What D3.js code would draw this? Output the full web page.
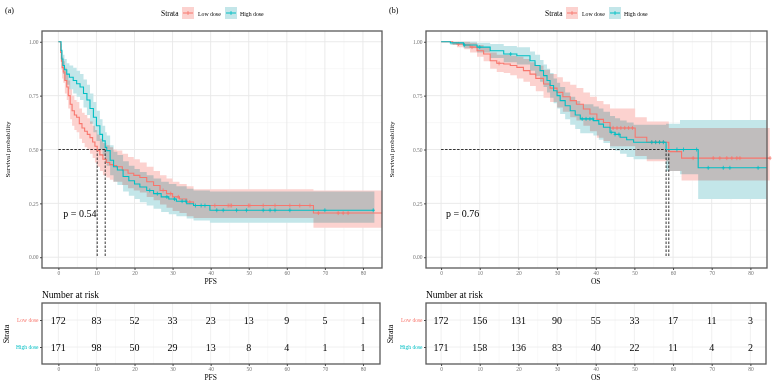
<!DOCTYPE html>
<html>
<head lang="en">
    <meta charset="UTF-8">
    <title></title>
    <script src="https://cdn.jsdelivr.net/npm/d3@7"></script>
    <style>
        body{margin:0;background:#fff;}
        svg text{font-family:"Liberation Serif","DejaVu Serif",serif;}
        .band{mix-blend-mode:multiply;}
    </style>
</head>
<body>
<script>
    // ---- data ----
    var strata=["Low dose","High dose"];
    var xTicks=[0,10,20,30,40,50,60,70,80];
    var yTicks=[0,0.25,0.5,0.75,1];

    // PFS, low dose
    var pfsLowT=[0,0.6,0.8,1.0,1.3,1.7,2.2,2.6,3.1,3.6,4.2,4.8,5.5,6.2,6.9,7.6,8.3,9.0,9.6,10.2,10.9,11.7,12.6,13.5,14.4,15.3,16.8,18.3,19.8,21.4,23.2,25.0,26.7,28.4,30.0,31.8,33.7,35.5,67.0,85];
    var pfsLowS=[1,0.95,0.91,0.88,0.86,0.82,0.79,0.75,0.71,0.68,0.66,0.65,0.62,0.60,0.585,0.57,0.555,0.535,0.515,0.495,0.475,0.455,0.44,0.43,0.425,0.42,0.405,0.39,0.38,0.37,0.35,0.333,0.31,0.295,0.28,0.27,0.256,0.24,0.205,0.205];
    var pfsLowLo=[1,0.92,0.87,0.83,0.81,0.76,0.73,0.69,0.64,0.61,0.59,0.58,0.55,0.53,0.51,0.50,0.48,0.46,0.44,0.42,0.40,0.38,0.37,0.36,0.35,0.35,0.335,0.32,0.31,0.30,0.28,0.265,0.245,0.23,0.215,0.205,0.19,0.182,0.137,0.137];
    var pfsLowHi=[1,0.98,0.95,0.93,0.91,0.88,0.85,0.82,0.78,0.75,0.73,0.72,0.69,0.67,0.66,0.645,0.63,0.61,0.59,0.57,0.55,0.53,0.52,0.51,0.50,0.495,0.48,0.465,0.455,0.44,0.42,0.40,0.38,0.365,0.35,0.34,0.33,0.315,0.31,0.31];
    var pfsLowCens=[27.5,29.5,31.5,34.5,41.1,44.6,45.1,45.5,49.9,50.3,53.8,56.9,60.8,63.4,66.1,68.3,73.5,74.8,76.1];

    // PFS, high dose
    var pfsHighT=[0,0.7,0.9,1.2,1.6,2.2,2.9,3.9,4.8,5.7,6.6,7.5,8.3,9.2,10.0,10.9,11.6,12.3,12.7,13.6,14.5,15.5,17.0,18.5,20.0,21.4,23.2,25.0,27.0,29.0,31.0,33.7,35.5,39.8,83];
    var pfsHighS=[1,0.96,0.92,0.89,0.87,0.85,0.835,0.82,0.805,0.79,0.76,0.73,0.69,0.65,0.61,0.57,0.54,0.51,0.495,0.45,0.42,0.405,0.375,0.355,0.34,0.326,0.31,0.295,0.28,0.27,0.26,0.248,0.24,0.218,0.218];
    var pfsHighLo=[1,0.93,0.88,0.85,0.82,0.80,0.78,0.76,0.745,0.73,0.695,0.66,0.62,0.58,0.54,0.50,0.47,0.44,0.425,0.38,0.35,0.335,0.305,0.285,0.27,0.255,0.24,0.225,0.21,0.20,0.19,0.18,0.17,0.16,0.16];
    var pfsHighHi=[1,0.99,0.96,0.94,0.92,0.90,0.89,0.88,0.865,0.85,0.825,0.80,0.76,0.72,0.68,0.64,0.61,0.58,0.565,0.52,0.49,0.475,0.445,0.425,0.41,0.395,0.38,0.365,0.35,0.34,0.33,0.318,0.31,0.305,0.305];
    var pfsHighCens=[24,26,28.5,30.5,32.5,33.5,36,37.5,38.5,41.6,43.3,46.8,49.4,53.8,55.6,56.9,60.8,70,82.7];

    // OS, low dose
    var osLowT=[0,3,4.1,6,7.5,9.3,11,12.7,14.4,16.2,17.9,19.6,21.3,23,24.5,26.5,28.2,30,31.5,33.4,35,36.8,38.5,40.3,42,43.7,50.2,53.2,58.9,62.2,85];
    var osLowS=[1,0.995,0.99,0.985,0.975,0.958,0.943,0.912,0.90,0.897,0.89,0.881,0.866,0.85,0.83,0.804,0.785,0.765,0.745,0.727,0.71,0.688,0.665,0.64,0.625,0.60,0.557,0.534,0.49,0.46,0.46];
    var osLowLo=[1,0.985,0.975,0.965,0.95,0.93,0.91,0.875,0.86,0.855,0.845,0.83,0.815,0.795,0.77,0.74,0.72,0.695,0.675,0.65,0.635,0.61,0.585,0.555,0.54,0.515,0.47,0.445,0.40,0.356,0.356];
    var osLowHi=[1,1,1,1,0.995,0.985,0.975,0.95,0.94,0.94,0.935,0.93,0.92,0.905,0.89,0.87,0.85,0.835,0.815,0.80,0.785,0.765,0.745,0.725,0.71,0.69,0.65,0.63,0.60,0.60,0.60];
    var osLowCens=[4.5,8,15,44.5,45.5,46.5,47.5,48.5,49.5,54.5,55.5,56.5,57.5,65.2,70.4,72.1,73.9,75.2,76.5,77.3,85.1];

    // OS, high dose
    var osHighT=[0,2.4,5.8,9.3,12.7,16.2,19.6,23,24.3,25.6,26.5,27.4,28.2,29.1,30,30.8,32.1,33.4,34.7,36,39.4,40.8,42,43.7,45,46.3,48,49.8,58.2,61.8,66.5,84.2];
    var osHighS=[1,0.995,0.985,0.975,0.958,0.943,0.935,0.912,0.89,0.866,0.843,0.82,0.797,0.773,0.75,0.727,0.703,0.68,0.66,0.642,0.634,0.618,0.603,0.58,0.57,0.557,0.545,0.534,0.50,0.50,0.415,0.415];
    var osHighLo=[1,0.985,0.97,0.95,0.925,0.905,0.895,0.865,0.84,0.815,0.79,0.765,0.74,0.715,0.69,0.665,0.64,0.615,0.595,0.575,0.565,0.545,0.53,0.505,0.495,0.48,0.465,0.455,0.40,0.385,0.27,0.27];
    var osHighHi=[1,1,1,0.995,0.99,0.98,0.975,0.955,0.94,0.915,0.895,0.875,0.855,0.83,0.81,0.79,0.765,0.745,0.725,0.71,0.70,0.69,0.675,0.655,0.645,0.635,0.625,0.615,0.62,0.637,0.637,0.637];
    var osHighCens=[6,10,18,36.5,37.5,38.5,39.3,44,45,46,54.5,55.5,56.5,57.5,61,62.7,66.1,69.1,73,74.7,82];

    // number at risk
    var riskTimes=[0,10,20,30,40,50,60,70,80];
    var pfsRiskLow=[172,83,52,33,23,13,9,5,1];
    var pfsRiskHigh=[171,98,50,29,13,8,4,1,1];
    var osRiskLow=[172,156,131,90,55,33,17,11,3];
    var osRiskHigh=[171,158,136,83,40,22,11,4,2];

    var pValues=["p = 0.54","p = 0.76"];
    var medians=[[10.2,12.3],[58.2,58.9]];

    // ---- drawing ----
    var lineColor=["#F8766D","#00BFC4"];
    var bandColor=["#fcd2cf","#c3e6e9"];

    function toPoints(T,S,Lo,Hi){
        return T.map(function(t,i){return {t:t,s:S[i],lo:Lo[i],hi:Hi[i]};});
    }

    var panels=[
        {tag:"(a)",xlab:"PFS",ox:0,px0:42,px1:382,dom:[-4.3,85],p:pValues[0],med:medians[0],
         curves:[toPoints(pfsLowT,pfsLowS,pfsLowLo,pfsLowHi),toPoints(pfsHighT,pfsHighS,pfsHighLo,pfsHighHi)],
         cens:[pfsLowCens,pfsHighCens],risk:[pfsRiskLow,pfsRiskHigh],tx1:380},
        {tag:"(b)",xlab:"OS",ox:384,px0:426,px1:767,dom:[-3.9,84.3],p:pValues[1],med:medians[1],
         curves:[toPoints(osLowT,osLowS,osLowLo,osLowHi),toPoints(osHighT,osHighS,osHighLo,osHighHi)],
         cens:[osLowCens,osHighCens],risk:[osRiskLow,osRiskHigh],tx1:766}
    ];

    var svg=d3.select("body").append("svg").attr("width",778).attr("height",385);
    var py0=31,py1=268;
    var y=d3.scaleLinear().domain([-0.05,1.05]).range([py1,py0]);

    panels.forEach(function(P){
        var g=svg.append("g");
        var x=d3.scaleLinear().domain(P.dom).range([P.px0,P.px1]);

        g.append("text").attr("x",P.ox+5).attr("y",13).style("font-size","8px").text(P.tag);

        // legend
        var lg=g.append("g").attr("transform","translate("+P.ox+",0)");
        lg.append("text").attr("x",161).attr("y",16).style("font-size","7.5px").text("Strata");
        var keyX=[182,225],labX=[198,240];
        strata.forEach(function(s,i){
            lg.append("rect").attr("x",keyX[i]).attr("y",7).attr("width",12).attr("height",12).attr("fill",bandColor[i]);
            lg.append("line").attr("x1",keyX[i]+1).attr("x2",keyX[i]+11).attr("y1",13).attr("y2",13)
                .attr("stroke",lineColor[i]).attr("stroke-width",1);
            lg.append("line").attr("x1",keyX[i]+6).attr("x2",keyX[i]+6).attr("y1",11).attr("y2",15)
                .attr("stroke",lineColor[i]).attr("stroke-width",0.8);
            lg.append("text").attr("x",labX[i]).attr("y",15.5).style("font-size","5.8px").text(s);
        });

        // grid
        var minorX=d3.range(5,85,10), minorY=[0.125,0.375,0.625,0.875];
        g.selectAll(".gmx").data(minorX).enter().append("line")
            .attr("x1",function(d){return x(d);}).attr("x2",function(d){return x(d);})
            .attr("y1",py0).attr("y2",py1).attr("stroke","#f3f3f3").attr("stroke-width",0.6);
        g.selectAll(".gmy").data(minorY).enter().append("line")
            .attr("x1",P.px0).attr("x2",P.px1).attr("y1",function(d){return y(d);}).attr("y2",function(d){return y(d);})
            .attr("stroke","#f3f3f3").attr("stroke-width",0.6);
        g.selectAll(".gx").data(xTicks).enter().append("line")
            .attr("x1",function(d){return x(d);}).attr("x2",function(d){return x(d);})
            .attr("y1",py0).attr("y2",py1).attr("stroke","#e8e8e8").attr("stroke-width",0.9);
        g.selectAll(".gy").data(yTicks).enter().append("line")
            .attr("x1",P.px0).attr("x2",P.px1).attr("y1",function(d){return y(d);}).attr("y2",function(d){return y(d);})
            .attr("stroke","#e8e8e8").attr("stroke-width",0.9);

        // confidence bands
        var area=d3.area().curve(d3.curveStepAfter)
            .x(function(d){return x(d.t);}).y0(function(d){return y(d.lo);}).y1(function(d){return y(d.hi);});
        var bands=g.append("g").style("isolation","isolate");
        P.curves.forEach(function(c,i){
            bands.append("path").attr("class","band").attr("d",area(c)).attr("fill",bandColor[i]);
        });

        // median lines
        var dash=g.append("g").attr("stroke","#000").attr("stroke-width",0.8).attr("stroke-dasharray","2.5,1.5").attr("fill","none");
        dash.append("line").attr("x1",x(0)).attr("x2",x(d3.max(P.med))).attr("y1",y(0.5)).attr("y2",y(0.5));
        P.med.forEach(function(m){
            dash.append("line").attr("x1",x(m)).attr("x2",x(m)).attr("y1",y(0.5)).attr("y2",y(0));
        });

        // survival curves
        var line=d3.line().curve(d3.curveStepAfter).x(function(d){return x(d.t);}).y(function(d){return y(d.s);});
        P.curves.forEach(function(c,i){
            g.append("path").attr("d",line(c)).attr("fill","none").attr("stroke",lineColor[i]).attr("stroke-width",1.1);
            var bis=d3.bisector(function(d){return d.t;}).right;
            P.cens[i].forEach(function(t){
                var s=c[Math.max(0,bis(c,t)-1)].s;
                g.append("line").attr("x1",x(t)).attr("x2",x(t)).attr("y1",y(s)-2).attr("y2",y(s)+2)
                    .attr("stroke",lineColor[i]).attr("stroke-width",0.8);
                g.append("line").attr("x1",x(t)-1.5).attr("x2",x(t)+1.5).attr("y1",y(s)).attr("y2",y(s))
                    .attr("stroke",lineColor[i]).attr("stroke-width",0.8);
            });
        });

        // border
        g.append("rect").attr("x",P.px0).attr("y",py0).attr("width",P.px1-P.px0).attr("height",py1-py0)
            .attr("fill","none").attr("stroke","#5a5a5a").attr("stroke-width",1.3);

        // axes
        var ax=g.append("g").attr("transform","translate(0,"+py1+")")
            .call(d3.axisBottom(x).tickValues(xTicks).tickSize(2).tickPadding(1.5));
        var ay=g.append("g").attr("transform","translate("+P.px0+",0)")
            .call(d3.axisLeft(y).tickValues(yTicks).tickFormat(d3.format(".2f")).tickSize(2).tickPadding(1.5));
        [ax,ay].forEach(function(a){
            a.select(".domain").remove();
            a.selectAll("line").attr("stroke","#444");
            a.selectAll("text").style("font-size","5.5px").attr("fill","#777").style("font-family","Liberation Serif");
        });
        g.append("text").attr("x",x(40)).attr("y",284).attr("text-anchor","middle").style("font-size","7.5px").text(P.xlab);
        g.append("text").attr("transform","translate("+(P.ox+10)+","+((py0+py1)/2)+") rotate(-90)")
            .attr("text-anchor","middle").style("font-size","7px").text("Survival probability");

        g.append("text").attr("x",x(0)+5).attr("y",217).style("font-size","10px").text(P.p);

        // risk table
        var ty0=303,ty1=364;
        var ry=d3.scalePoint().domain(strata).range([320,347]);
        g.append("text").attr("x",P.px0).attr("y",298).style("font-size","9.5px").text("Number at risk");
        g.selectAll(".rmx").data(minorX).enter().append("line")
            .attr("x1",function(d){return x(d);}).attr("x2",function(d){return x(d);})
            .attr("y1",ty0).attr("y2",ty1).attr("stroke","#f3f3f3").attr("stroke-width",0.6);
        g.selectAll(".rgx").data(xTicks).enter().append("line")
            .attr("x1",function(d){return x(d);}).attr("x2",function(d){return x(d);})
            .attr("y1",ty0).attr("y2",ty1).attr("stroke","#ececec").attr("stroke-width",0.8);
        g.selectAll(".rgy").data(strata).enter().append("line")
            .attr("x1",P.px0).attr("x2",P.tx1).attr("y1",function(d){return ry(d);}).attr("y2",function(d){return ry(d);})
            .attr("stroke","#ececec").attr("stroke-width",0.8);
        strata.forEach(function(s,i){
            g.selectAll(".rn"+i).data(P.risk[i]).enter().append("text")
                .attr("x",function(d,j){return x(riskTimes[j]);})
                .attr("y",ry(s)+3.5).attr("text-anchor","middle").style("font-size","10px")
                .text(function(d){return d;});
        });
        g.append("rect").attr("x",P.px0).attr("y",ty0).attr("width",P.tx1-P.px0).attr("height",ty1-ty0)
            .attr("fill","none").attr("stroke","#5a5a5a").attr("stroke-width",1.3);
        var rax=g.append("g").attr("transform","translate(0,"+ty1+")")
            .call(d3.axisBottom(x).tickValues(xTicks).tickSize(2).tickPadding(1.5));
        var ray=g.append("g").attr("transform","translate("+P.px0+",0)")
            .call(d3.axisLeft(ry).tickSize(2).tickPadding(1.5));
        [rax,ray].forEach(function(a){
            a.select(".domain").remove();
            a.selectAll("line").attr("stroke","#444");
            a.selectAll("text").style("font-size","5.5px").attr("fill","#777").style("font-family","Liberation Serif");
        });
        ray.selectAll("text").attr("fill",function(d,i){return lineColor[i];});
        g.append("text").attr("x",x(40)).attr("y",380).attr("text-anchor","middle").style("font-size","7.5px").text(P.xlab);
        g.append("text").attr("transform","translate("+(P.ox+9)+",334) rotate(-90)")
            .attr("text-anchor","middle").style("font-size","8px").text("Strata");
    });
</script>
</body>
</html>
